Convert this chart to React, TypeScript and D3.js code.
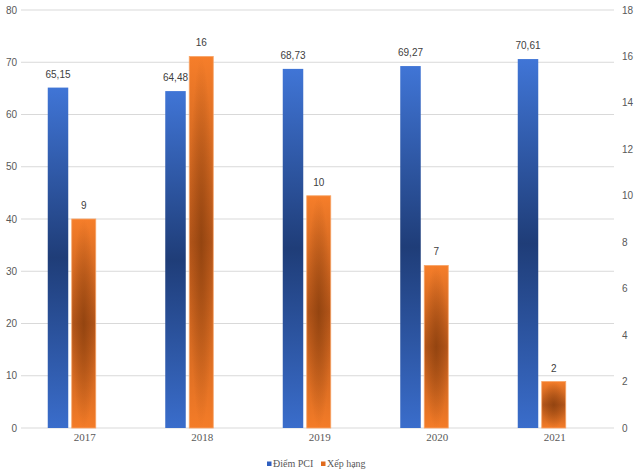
import React from "react";
import * as d3 from "d3";

const years = ["2017", "2018", "2019", "2020", "2021"];
const pciScores = [65.15, 64.48, 68.73, 69.27, 70.61];
const rankings = [9, 16, 10, 7, 2];
const leftTicks = [0, 10, 20, 30, 40, 50, 60, 70, 80];
const rightTicks = [0, 2, 4, 6, 8, 10, 12, 14, 16, 18];
const seriesNames = ["Điểm PCI", "Xếp hạng"];

const W = 640;
const H = 475;

export default function App() {
  const x = d3.scaleBand<string>().domain(years).range([25, 612.5]).paddingInner(0).paddingOuter(0);
  const yL = d3.scaleLinear().domain([0, 80]).range([428, 10]);
  const yR = d3.scaleLinear().domain([0, 18]).range([428, 10]);
  const fmt = (v: number) => v.toFixed(2).replace(".", ",");
  const sans = "'Liberation Sans', Arial, sans-serif";
  const serif = "'Liberation Serif', 'Times New Roman', serif";
  const blueW = 20.5;
  const orangeW = 24;

  return (
    <svg
      width={W}
      height={H}
      style={{ position: "absolute", left: 0, top: 0, background: "#fff" }}
    >
      <defs>
        <linearGradient id="blueG" x1="0" y1="0" x2="0" y2="1">
          <stop offset="0%" stopColor="#4075d6" />
          <stop offset="50%" stopColor="#1f3d78" />
          <stop offset="100%" stopColor="#3a6dcb" />
        </linearGradient>
        <linearGradient id="orangeG" x1="0" y1="0" x2="0" y2="1">
          <stop offset="0%" stopColor="#f67e2a" />
          <stop offset="50%" stopColor="#b4561a" />
          <stop offset="100%" stopColor="#f47c28" />
        </linearGradient>
        <radialGradient id="orangeR" cx="0.5" cy="0.5" r="0.5">
          <stop offset="0%" stopColor="#7a3608" stopOpacity={0.55} />
          <stop offset="100%" stopColor="#7a3608" stopOpacity={0} />
        </radialGradient>
      </defs>

      {/* gridlines */}
      {leftTicks.map((t) => (
        <line
          key={"g" + t}
          x1={21}
          x2={614}
          y1={yL(t)}
          y2={yL(t)}
          stroke="#d9d9d9"
          strokeWidth={1}
        />
      ))}

      {/* left ticks */}
      {leftTicks.map((t) => (
        <text
          key={"l" + t}
          x={17}
          y={yL(t)}
          dy="0.35em"
          textAnchor="end"
          fontFamily={sans}
          fontSize={10}
          fill="#595959"
        >
          {t}
        </text>
      ))}

      {/* right ticks */}
      {rightTicks.map((t) => (
        <text
          key={"r" + t}
          x={622}
          y={yR(t)}
          dy="0.35em"
          textAnchor="start"
          fontFamily={sans}
          fontSize={10}
          fill="#595959"
        >
          {t}
        </text>
      ))}

      {/* bars */}
      {years.map((yr, i) => {
        const c = (x(yr) as number) + x.bandwidth() / 2;
        const bx = c - 36;
        const ox = c - 12;
        const by = yL(pciScores[i]);
        const oy = yR(rankings[i]);
        return (
          <g key={yr}>
            <rect x={bx} y={by} width={blueW} height={yL(0) - by} fill="url(#blueG)" />
            <rect
              x={ox}
              y={oy}
              width={orangeW}
              height={yR(0) - oy}
              fill="url(#orangeG)"
              stroke="#f8a466"
              strokeWidth={0.8}
            />
            <rect x={ox} y={oy} width={orangeW} height={yR(0) - oy} fill="url(#orangeR)" />
            <text
              x={bx + blueW / 2}
              y={by - 10}
              textAnchor="middle"
              fontFamily={sans}
              fontSize={10}
              fill="#404040"
            >
              {fmt(pciScores[i])}
            </text>
            <text
              x={ox + orangeW / 2}
              y={oy - 10}
              textAnchor="middle"
              fontFamily={sans}
              fontSize={10}
              fill="#404040"
            >
              {rankings[i]}
            </text>
            <text
              x={c + 1}
              y={441}
              textAnchor="middle"
              fontFamily={serif}
              fontSize={11}
              fill="#595959"
            >
              {yr}
            </text>
          </g>
        );
      })}

      {/* legend */}
      <g>
        <rect x={267} y={461.5} width={4.5} height={4.5} fill="#2f5fbf" />
        <text x={273} y={467} fontFamily={serif} fontSize={10} fill="#595959">
          {seriesNames[0]}
        </text>
        <rect x={321} y={461.5} width={4.5} height={4.5} fill="#e06a1c" />
        <text x={327} y={467} fontFamily={serif} fontSize={10} fill="#595959">
          {seriesNames[1]}
        </text>
      </g>
    </svg>
  );
}
